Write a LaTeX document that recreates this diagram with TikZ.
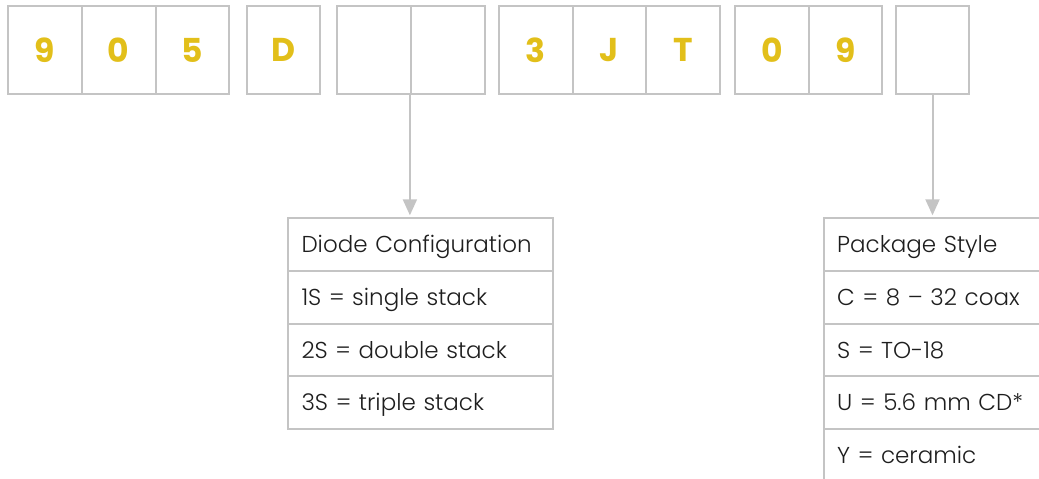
\documentclass[tikz,border=0pt]{standalone}
\usepackage{fontspec}
\setmainfont{Poppins}
\newfontfamily\codefont{Poppins}[UprightFont=* Bold]
\newfontfamily\tabfont{Poppins}[UprightFont=* Light]
\usetikzlibrary{arrows.meta}
\definecolor{frame}{HTML}{C4C4C4}
\definecolor{gold}{HTML}{E2BF1A}
\definecolor{ink}{HTML}{1E1E1E}
\tikzset{
  cell/.style={draw=frame, line width=2pt, minimum width=73.6pt, minimum height=88.3pt,
    inner sep=0pt, font=\codefont\fontsize{33}{33}\selectfont, text=gold},
  row/.style={draw=frame, line width=2pt, anchor=north west, minimum width=264.4pt,
    minimum height=52.7pt, inner sep=0pt, outer sep=0pt, text width=238pt, align=left,
    text height=18pt, text depth=2pt,
    font=\tabfont\fontsize{23}{23}\selectfont, text=ink},
  pointer/.style={draw=frame, line width=2pt, -{Triangle[length=16pt,width=14pt]}, shorten >=3pt},
}
\begin{document}
\begin{tikzpicture}[x=1pt,y=-1pt]
\useasboundingbox (0,0) rectangle (1039,479);
\clip (0,0) rectangle (1039,479);
% part number code cells
\node[cell] (c1)  at (45.1,50.2)  {9};
\node[cell] (c2)  at (118.7,50.2) {0};
\node[cell] (c3)  at (192.3,50.2) {5};
\node[cell] (c4)  at (283.5,50.2) {D};
\node[cell] (c5)  at (374.1,50.2) {};
\node[cell] (c6)  at (447.7,50.2) {};
\node[cell] (c7)  at (535.8,50.2) {3};
\node[cell] (c8)  at (609.4,50.2) {J};
\node[cell] (c9)  at (683.0,50.2) {T};
\node[cell] (c10) at (771.8,50.2) {0};
\node[cell] (c11) at (845.4,50.2) {9};
\node[cell] (c12) at (932.5,50.2) {};
% diode configuration table
\node[row] (dh) at (288.3,218.3) {Diode Configuration};
\node[row] (d1) at (dh.south west) {1S = single stack};
\node[row] (d2) at (d1.south west) {2S = double stack};
\node[row] (d3) at (d2.south west) {3S = triple stack};
% package style table
\node[row] (ph) at (824,218.3) {Package Style};
\node[row] (p1) at (ph.south west) {C = 8 – 32 coax};
\node[row] (p2) at (p1.south west) {S = TO-18};
\node[row] (p3) at (p2.south west) {U = 5.6 mm CD*};
\node[row] (p4) at (p3.south west) {Y = ceramic};
% pointers
\draw[pointer] (c6.south west) -- (c6.south west |- dh.north);
\draw[pointer] (c12.south) -- (c12.south |- ph.north);
\end{tikzpicture}
\end{document}
